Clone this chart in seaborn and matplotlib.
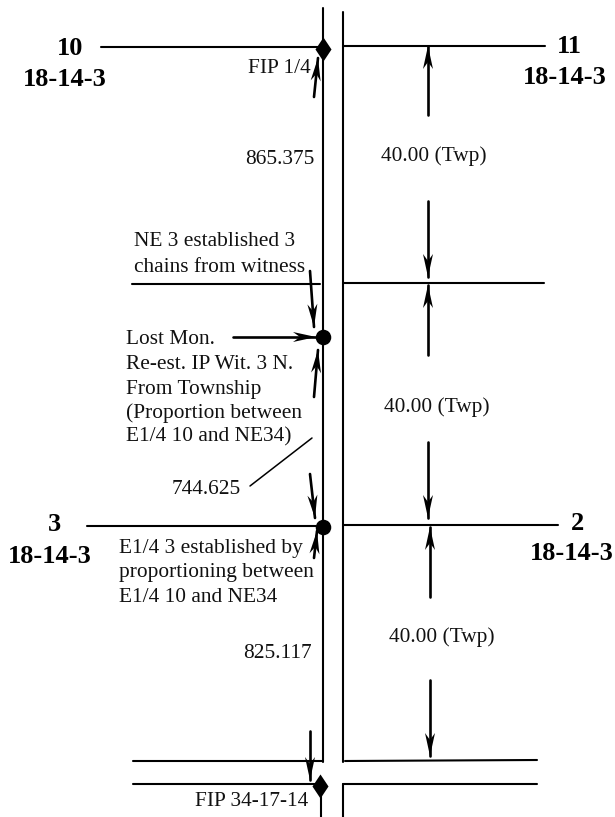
import numpy as np
import pandas as pd
import seaborn as sns
from matplotlib import pyplot as plt

sns.set_theme(style="white")
plt.rcParams['font.family'] = ['Liberation Serif', 'DejaVu Serif']

# road and section lines: x1, y1, x2, y2 (picture pixels)
heavy_lines = [
    (323, 8, 323, 762), (343, 12, 343, 762),
    (101, 47, 320, 47), (343, 46, 545, 46),
    (132, 284, 320, 284), (343, 283, 544, 283),
    (87, 526, 316, 526), (344, 525, 558, 525),
    (133, 761, 323, 761), (345, 761, 537, 760),
    (133, 784, 317, 784), (343, 784, 537, 784),
    (343, 784, 343, 817), (321, 795, 321, 817),
]
leader_lines = [(312, 438, 250, 486)]

# arrows: tail x, tail y, tip x, tip y
arrows = [
    (314, 97, 318, 58), (428, 115, 428, 46), (428, 201, 428, 277),
    (310, 271, 314, 327), (233, 337, 316, 337), (314, 397, 318, 350),
    (428, 355, 428, 285), (428, 442, 428, 518), (310, 474, 315, 518),
    (314, 558, 317, 531), (430, 597, 430, 527), (310, 731, 310, 780),
    (430, 680, 430, 756),
]

circle_x = [323, 323]
circle_y = [337, 527]
diamond_x = [323, 320]
diamond_y = [49, 786]

plain_labels = [
    ("FIP 1/4", 248, 66, "left"), ("865.375", 315, 157, "right"),
    ("40.00 (Twp)", 434, 154, "center"), ("NE 3 established 3", 134, 239, "left"),
    ("chains from witness", 134, 266, "left"), ("Lost Mon.", 126, 337, "left"),
    ("Re-est. IP Wit. 3 N.", 126, 362, "left"), ("From Township", 126, 387, "left"),
    ("(Proportion between", 126, 411, "left"), ("E1/4 10 and NE34)", 126, 435, "left"),
    ("40.00 (Twp)", 437, 405, "center"), ("744.625", 241, 487, "right"),
    ("E1/4 3 established by", 119, 547, "left"), ("proportioning between", 119, 571, "left"),
    ("E1/4 10 and NE34", 119, 596, "left"), ("825.117", 312, 652, "right"),
    ("40.00 (Twp)", 442, 635, "center"), ("FIP 34-17-14", 308, 799, "right"),
]
bold_labels = [
    ("10", 70, 47), ("18-14-3", 65, 78), ("11", 569, 45), ("18-14-3", 565, 76),
    ("3", 54, 523), ("18-14-3", 50, 555), ("2", 577, 522), ("18-14-3", 572, 552),
]


def segments(rows):
    # long table with one unit per segment, for sns.lineplot
    out = []
    for i, (x1, y1, x2, y2) in enumerate(rows):
        out.append({"seg": i, "x": x1, "y": y1})
        out.append({"seg": i, "x": x2, "y": y2})
    return pd.DataFrame(out)


def draw_lines(ax, rows, lw):
    sns.lineplot(data=segments(rows), x="x", y="y", units="seg", estimator=None,
                 sort=False, color="black", linewidth=lw, ax=ax, legend=False)


def arrow_head(ax, x1, y1, x2, y2, length=23, half=5, notch=16):
    # barbed head, pointing from tail to tip
    d = np.array([x2 - x1, y2 - y1], dtype=float)
    d = d / np.hypot(*d)
    n = np.array([-d[1], d[0]])
    tip = np.array([x2, y2], dtype=float)
    pts = np.array([tip, tip - d*length + n*half, tip - d*notch, tip - d*length - n*half])
    ax.fill(pts[:, 0], pts[:, 1], color="black", lw=0, zorder=3)


fig = plt.figure(figsize=(6.15, 8.17), dpi=100)
ax = fig.add_axes([0, 0, 1, 1])

draw_lines(ax, heavy_lines, 1.5)
draw_lines(ax, leader_lines, 1.1)
draw_lines(ax, arrows, 1.9)
for a in arrows:
    arrow_head(ax, *a)

sns.scatterplot(x=circle_x, y=circle_y, marker="o", s=125, color="black",
                linewidth=0, ax=ax, zorder=4)
# tall thin diamond
sns.scatterplot(x=diamond_x, y=diamond_y, marker=[(0, -1.5), (1, 0), (0, 1.5), (-1, 0)], s=300,
                color="black", linewidth=0, ax=ax, zorder=4)

for txt, x, y, ha in plain_labels:
    ax.text(x, y + 2, txt, fontsize=15.4, ha=ha, va="center", color="#111111")
for txt, x, y in bold_labels:
    ax.text(x, y + 1.5, txt, fontsize=19, fontweight="bold", ha="center", va="center", color="black")

ax.set_xlim(0, 615)
ax.set_ylim(817, 0)
ax.axis("off")

fig.savefig("out.png", dpi=100)
